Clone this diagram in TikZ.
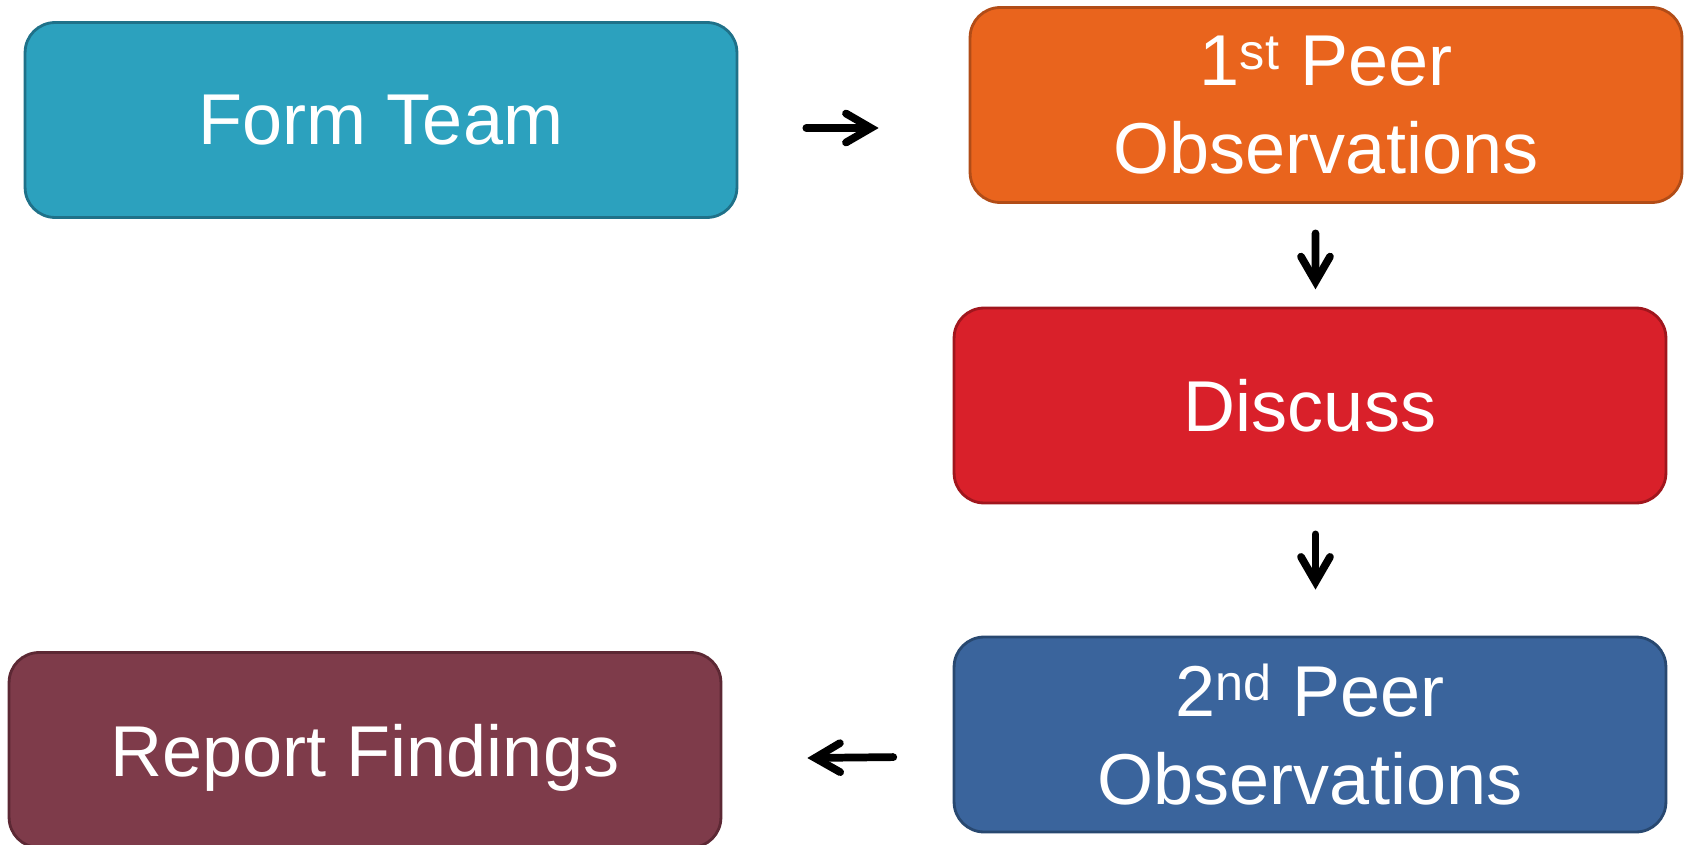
\documentclass[tikz,border=0pt]{standalone}
\usepackage{fontspec}
\setmainfont{Liberation Sans}
\usetikzlibrary{arrows.meta}

\definecolor{teamfill}{HTML}{2CA1BE}
\definecolor{teamline}{HTML}{1F7189}
\definecolor{firstfill}{HTML}{E9641D}
\definecolor{firstline}{HTML}{B14C17}
\definecolor{talkfill}{HTML}{D9202A}
\definecolor{talkline}{HTML}{A0161D}
\definecolor{secondfill}{HTML}{3A649C}
\definecolor{secondline}{HTML}{284870}
\definecolor{reportfill}{HTML}{7E3B4A}
\definecolor{reportline}{HTML}{5C2834}

\begin{document}
\begin{tikzpicture}[x=0.02cm,y=-0.02cm,
    stage/.style 2 args={draw=#2, fill=#1, line width=1.6pt, rounded corners=0.6cm,
        minimum width=14.24cm, minimum height=3.9cm, text=white, align=center,
        font=\fontsize{41}{50}\selectfont},
    flow/.style={-{Straight Barb[length=0.5cm,width=0.58cm,line cap=round]},
        line width=4.4pt, line cap=round}]
        \useasboundingbox (0,0) rectangle (1688,845);
        % steps
        \node[stage={teamfill}{teamline}] (form) at (381,120) {Form Team};
        \node[stage={firstfill}{firstline}] (peer1) at (1326,105) {1\textsuperscript{st} Peer\\Observations};
        \node[stage={talkfill}{talkline}] (discuss) at (1310,405.5) {Discuss};
        \node[stage={secondfill}{secondline}] (peer2) at (1310,734.5) {2\textsuperscript{nd} Peer\\Observations};
        \node[stage={reportfill}{reportline}, text depth=0pt] (report) at (365,750) {Report Findings};
        % arrows
        \draw[flow] ([shift={(68,8)}]form.east) -- ([shift={(-90,23)}]peer1.west);
        \draw[flow] ([shift={(-10.5,29.5)}]peer1.south) -- ([shift={(5.5,-17.3)}]discuss.north);
        \draw[flow] ([shift={(5.5,30)}]discuss.south) -- ([shift={(5.5,-46)}]peer2.north);
        \draw[flow] ([shift={(-59.4,22.6)}]peer2.west) -- ([shift={(85,8)}]report.east);
\end{tikzpicture}
\end{document}
